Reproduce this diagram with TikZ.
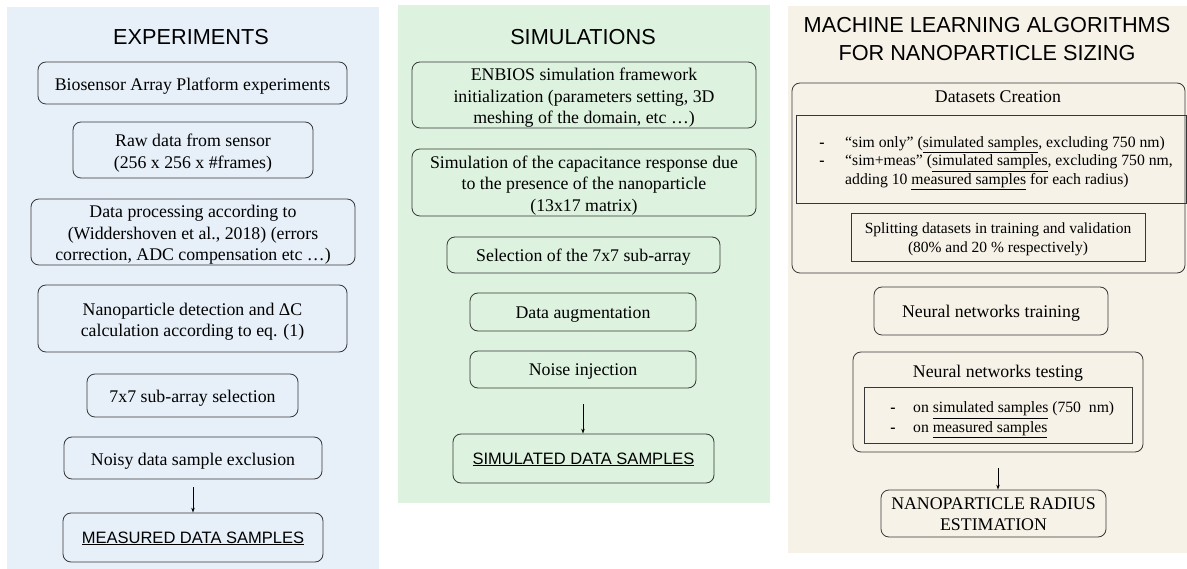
\documentclass[tikz,border=0pt]{standalone}
\usepackage{fontspec}
\setmainfont{Liberation Serif}
\newfontfamily\headfont{Liberation Sans}
\usetikzlibrary{arrows.meta}

\definecolor{expbg}{RGB}{231,239,248}
\definecolor{simbg}{RGB}{221,242,223}
\definecolor{mlbg}{RGB}{246,242,232}
\definecolor{boxline}{RGB}{55,55,55}

\newcommand\bxfont{\fontsize{17.8}{21.5}\selectfont}
\newcommand\lsfont{\fontsize{15.7}{17.5}\selectfont}
\newcommand\ttlfont{\headfont\fontsize{21.7}{28}\selectfont}
\newcommand\outfont{\headfont\fontsize{16.5}{20}\selectfont}
% centred block of lines, set a little lower than its natural box
\newcommand\bx[2][-3pt]{\raisebox{#1}[\height][\depth]{\begin{tabular}{@{}c@{}}#2\end{tabular}}}

\begin{document}
\begin{tikzpicture}[x=1pt,y=-1pt,
  sz/.style 2 args={minimum width=#1pt, minimum height=#2pt},
  stepbox/.style={draw=boxline, line width=0.8pt, rounded corners=8pt,
    inner sep=0pt, font=\bxfont},
  plainbox/.style={draw=boxline, line width=0.8pt, inner sep=0pt},
  panel/.style={fill=#1, draw=none},
  title/.style={align=center, inner sep=0pt, font=\ttlfont},
  txt/.style={inner sep=0pt, font=\bxfont},
  lst/.style={inner sep=0pt, anchor=base west, font=\lsfont},
  bulletmark/.style={inner sep=0pt, anchor=base, font=\lsfont\bfseries},
  arr/.style={draw=black, line width=0.8pt, -{Stealth[length=5pt,width=3.5pt]}}]

\useasboundingbox (0,0) rectangle (1187,569);

% background panels
\fill[panel=expbg] (7,7) rectangle (379,569);
\fill[panel=simbg] (398,5) rectangle (770,503);
\fill[panel=mlbg] (788,6) rectangle (1187,553);

% ---- experiments column ----
\node[title] (expt) at (191,37) {EXPERIMENTS};
\node[stepbox, sz={309}{42}] (b1) at (192.5,83) {\bx{Biosensor Array Platform experiments}};
\node[stepbox, sz={240}{56}] (b2) at (193,150) {\bx{Raw data from sensor\\(256 x 256 x \#frames)}};
\node[stepbox, sz={324}{66}] (b3) at (193,232) {\bx{Data processing according to\\(Widdershoven et al., 2018) (errors\\correction, ADC compensation etc …)}};
\node[stepbox, sz={309}{67}] (b4) at (192.5,318.5) {\bx{Nanoparticle detection and ΔC\\calculation according to eq. (1)}};
\node[stepbox, sz={211}{43}] (b5) at (192.5,395.5) {\bx{7x7 sub-array selection}};
\node[stepbox, sz={258}{42}] (b6) at (193,458) {\bx{Noisy data sample exclusion}};
\node[stepbox, sz={260}{49}, font=\outfont] (b7) at (193,537.5) {\bx[-1.5pt]{\underline{MEASURED DATA SAMPLES}}};
\draw[arr] ([yshift=-8pt]b6.south) -- (b6.south |- b7.north);

% ---- simulations column ----
\node[title] (simt) at (583,37) {SIMULATIONS};
\node[stepbox, sz={344}{66}] (c1) at (584,95) {\bx{ENBIOS simulation framework\\initialization (parameters setting, 3D\\meshing of the domain, etc …)}};
\node[stepbox, sz={344}{67}] (c2) at (584,182.5) {\bx{Simulation of the capacitance response due\\to the presence of the nanoparticle\\(13x17 matrix)}};
\node[stepbox, sz={273}{36}] (c3) at (583.5,255) {\bx[-2pt]{Selection of the 7x7 sub-array}};
\node[stepbox, sz={226}{38}] (c4) at (583,312) {\bx[-2pt]{Data augmentation}};
\node[stepbox, sz={226}{37}] (c5) at (583,369.5) {\bx[-2pt]{Noise injection}};
\node[stepbox, sz={261}{49}, font=\outfont] (c6) at (583.5,458.5) {\bx[-1.5pt]{\underline{SIMULATED DATA SAMPLES}}};
\draw[arr] ([yshift=-16pt]c5.south) -- (c5.south |- c6.north);

% ---- machine learning column ----
\node[title] (mlt) at (987,39) {MACHINE LEARNING ALGORITHMS\\FOR NANOPARTICLE SIZING};

\node[stepbox, sz={393}{190}] (ds) at (988.5,178) {};
\node[txt] (dst) at (998,96.5) {Datasets Creation};
\node[plainbox, sz={390}{88}] (dsl) at (991,159) {};
\node[bulletmark] (d1) at (822,147.5) {-};
\node[lst] (l1) at (845,147.5) {“sim only” (\underline{simulated samples}, excluding 750 nm)};
\node[bulletmark] (d2) at (822,166) {-};
\node[lst] (l2) at (845,166) {“sim+meas” (\underline{simulated samples}, excluding 750 nm,};
\node[lst] (l3) at (845,184.5) {adding 10 \underline{measured samples} for each radius)};
\node[plainbox, sz={294}{48}, font=\fontsize{15.5}{19}\selectfont] (sp) at (998,237) {\bx[-2pt]{Splitting datasets in training and validation\\(80\% and 20 \% respectively)}};

\node[stepbox, sz={234}{48}] (e1) at (991,311) {\bx[-2pt]{Neural networks training}};

\node[stepbox, sz={290}{100}] (e2) at (998,402) {};
\node[txt] (e2t) at (998,373.5) {Neural networks testing};
\node[plainbox, sz={268}{56}] (e2l) at (998,415) {};
\node[bulletmark] (d3) at (893,413) {-};
\node[lst] (l4) at (913,413) {on \underline{simulated samples} (750~~nm)};
\node[bulletmark] (d4) at (893,432) {-};
\node[lst] (l5) at (913,432) {on \underline{measured samples}};

\node[stepbox, sz={225}{47}] (e3) at (993.5,513.5) {\bx[-2pt]{NANOPARTICLE RADIUS\\ESTIMATION}};
\draw[arr] ([yshift=-16pt]e2.south) -- (e2.south |- e3.north);

\end{tikzpicture}
\end{document}
